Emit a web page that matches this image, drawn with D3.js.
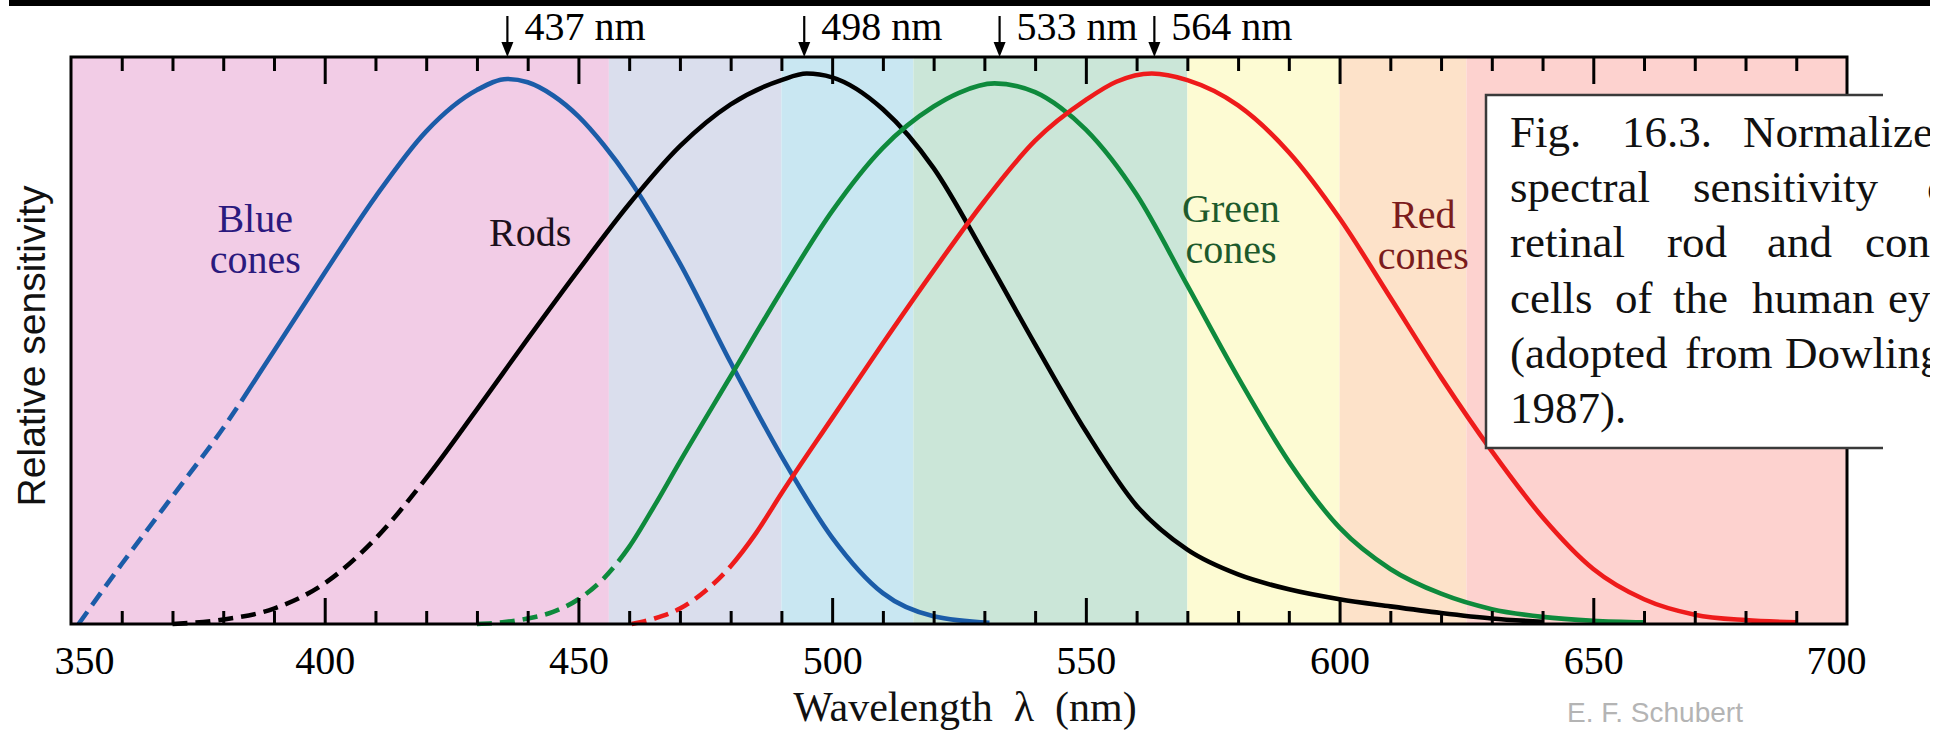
<!DOCTYPE html>
<html><head><meta charset="utf-8">
<script src="https://cdn.jsdelivr.net/npm/d3@7"></script>
<style>
body{margin:0;background:#fff;}
svg{display:block;}
</style>
</head><body>
<svg id="chart" width="1956" height="735"></svg>
<script>
// ---------------- DATA ----------------
const bandEdges  = [350, 456, 490, 516, 570, 600, 625, 700];
const bandColors = ["#f2cce6", "#dadeed", "#c9e7f2", "#cbe6d8", "#fdfbd3", "#fde2c9", "#fdd2cf"];

const minorTicks = [360,370,380,390,410,420,430,440,460,470,480,490,510,520,530,540,560,570,580,590,610,620,630,640,660,670,680,690];
const majorTicks = [400,450,500,550,600,650];
const tickLabels = [350,400,450,500,550,600,650,700];

const blueCones = [[351.5,0.0],[360,0.109],[370,0.232],[380,0.356],[390,0.496],[400,0.638],[410,0.776],[420,0.895],[430,0.970],[436,0.990],[440,0.984],[445,0.960],[450,0.922],[455,0.870],[460,0.808],[470,0.655],[480,0.475],[490,0.305],[500,0.157],[510,0.056],[520,0.014],[531,0.002]];
const rods      = [[370,0.0],[380,0.008],[390,0.028],[400,0.074],[410,0.155],[420,0.265],[430,0.390],[440,0.518],[450,0.643],[460,0.763],[470,0.868],[480,0.944],[490,0.988],[495,1.0],[500,0.993],[510,0.935],[520,0.828],[530,0.672],[540,0.508],[550,0.350],[560,0.215],[570,0.135],[580,0.090],[590,0.063],[600,0.045],[610,0.032],[620,0.020],[630,0.010],[640,0.004]];
const greenCones= [[430,0.0],[435,0.003],[440,0.010],[445,0.022],[450,0.045],[455,0.083],[460,0.140],[465,0.215],[470,0.295],[480,0.450],[490,0.605],[500,0.750],[510,0.865],[520,0.940],[525,0.965],[532,0.982],[540,0.966],[545,0.938],[550,0.898],[560,0.780],[570,0.615],[580,0.448],[590,0.295],[600,0.175],[610,0.100],[620,0.055],[630,0.027],[640,0.013],[650,0.006],[660,0.003]];
const redCones  = [[460.5,0.0],[465,0.010],[470,0.028],[475,0.060],[480,0.105],[485,0.165],[490,0.237],[500,0.374],[510,0.510],[520,0.642],[530,0.768],[540,0.878],[550,0.952],[556,0.985],[563,1.0],[570,0.988],[580,0.942],[590,0.857],[600,0.737],[610,0.593],[620,0.448],[630,0.314],[640,0.194],[650,0.100],[660,0.045],[670,0.017],[680,0.007],[690,0.003]];

const seriesData   = [blueCones, rods, greenCones, redCones];
const seriesColors = ["#1b5ca8", "#000000", "#0e8a3c", "#ee1b1b"];
const dashEndNm    = [383, 418, 457, 480];

const peakLabels = ["437 nm", "498 nm", "533 nm", "564 nm"];
const peakArrowNm = [436, 494.5, 533, 563.5];

const captionLines = [
  [["Fig.",1510],["16.3.",1622],["Normalized",1743]],
  [["spectral",1510],["sensitivity",1693],["of",1927]],
  [["retinal",1510],["rod",1667],["and",1767],["cone",1865]],
  [["cells",1510],["of",1615],["the",1673],["human",1752],["eye",1888]],
  [["(adopted",1510],["from",1685],["Dowling,",1785]],
  [["1987).",1510]]
];

// ---------------- LAYOUT ----------------
const svg = d3.select("#chart");
const L = 71, R = 1847, T = 57, B = 624;
const x = d3.scaleLinear().domain([350, 700]).range([L, R]);
const y = d3.scaleLinear().domain([0, 1]).range([B, 73.5]);
const serif = "'Liberation Serif','Times New Roman',Times,serif";
const sans = "'Liberation Sans',Arial,Helvetica,sans-serif";

// top black bar
svg.append("rect").attr("x", 9).attr("y", 0).attr("width", 1921).attr("height", 6).attr("fill", "#000");

// bands
const bands = d3.range(bandColors.length).map(i => ({a: bandEdges[i], b: bandEdges[i+1], c: bandColors[i]}));
svg.append("g").selectAll("rect").data(bands).join("rect")
  .attr("x", d => x(d.a)).attr("y", T)
  .attr("width", d => x(d.b) - x(d.a)).attr("height", B - T)
  .attr("fill", d => d.c);

// curves: one path each, dashed up to dashEndNm then solid
const line = d3.line().x(d => x(d[0])).y(d => y(d[1])).curve(d3.curveMonotoneX);
const gc = svg.append("g");
seriesData.forEach((data, i) => {
  const p = gc.append("path").attr("d", line(data)).attr("fill", "none")
    .attr("stroke", seriesColors[i]).attr("stroke-width", 4.6)
    .attr("stroke-linejoin", "round");
  const node = p.node();
  const total = node.getTotalLength();
  const targetX = x(dashEndNm[i]);
  let lo = 0, hi = total;
  for (let k = 0; k < 40; k++) {
    const mid = (lo + hi) / 2;
    if (node.getPointAtLength(mid).x < targetX) lo = mid; else hi = mid;
  }
  const n = Math.round(lo / 23);
  const arr = [];
  for (let k = 0; k < n; k++) arr.push(15, 8);
  arr.push(total + 10, 0);
  p.attr("stroke-dasharray", arr.join(","));
});

// axes ticks (inward)
function tickAxis(axisFn, vals, size, ty) {
  const g = svg.append("g").attr("transform", `translate(0,${ty})`)
    .call(axisFn(x).tickValues(vals).tickSize(size).tickFormat(""));
  g.select(".domain").remove();
  g.selectAll("line").attr("stroke", "#000").attr("stroke-width", 3);
  return g;
}
tickAxis(d3.axisBottom, minorTicks, -13, B);
tickAxis(d3.axisBottom, majorTicks, -26, B);
tickAxis(d3.axisTop, minorTicks, -14, T);
tickAxis(d3.axisTop, majorTicks, -27, T);

// tick labels
const gl = svg.append("g").attr("transform", `translate(0,${B})`)
  .call(d3.axisBottom(x).tickValues(tickLabels).tickSize(0).tickPadding(22));
gl.select(".domain").remove();
gl.selectAll("text").attr("font-family", serif).attr("font-size", 40).attr("fill", "#000")
  .attr("dx", d => d === 350 ? 13 : (d === 700 ? -11 : 0));

// frame
svg.append("rect").attr("x", L).attr("y", T).attr("width", R - L).attr("height", B - T)
  .attr("fill", "none").attr("stroke", "#000").attr("stroke-width", 3);

// peak arrows + labels
const ga = svg.append("g");
peakLabels.forEach((lab, i) => {
  const px = x(peakArrowNm[i]);
  ga.append("line").attr("x1", px).attr("x2", px).attr("y1", 16).attr("y2", 46)
    .attr("stroke", "#000").attr("stroke-width", 2.2);
  ga.append("path").attr("d", `M${px-6},${42} L${px+6},${42} L${px},${57} Z`).attr("fill", "#000");
  ga.append("text").attr("x", px + 17).attr("y", 40).text(lab)
    .attr("font-family", serif).attr("font-size", 40).attr("fill", "#000");
});

// curve labels
const labels = [
  {t: ["Blue", "cones"], nm: 386.3, v: 0.712, c: "#2b1a7e"},
  {t: ["Rods"], nm: 440.5, v: 0.687, c: "#1c101c"},
  {t: ["Green", "cones"], nm: 578.6, v: 0.730, c: "#1d5a2c"},
  {t: ["Red", "cones"], nm: 616.5, v: 0.720, c: "#7b1c1c"}
];
labels.forEach(l => {
  l.t.forEach((s, j) => {
    svg.append("text").attr("x", x(l.nm)).attr("y", y(l.v) + j * 41)
      .attr("text-anchor", "middle").attr("font-family", serif).attr("font-size", 40)
      .attr("fill", l.c).text(s);
  });
});

// axis titles
svg.append("text").attr("transform", "translate(45,346) rotate(-90)")
  .attr("text-anchor", "middle").attr("font-family", sans).attr("font-size", 39)
  .attr("fill", "#111").text("Relative sensitivity");
svg.append("text").attr("x", 965).attr("y", 721).attr("text-anchor", "middle")
  .attr("font-family", serif).attr("font-size", 42).attr("fill", "#111")
  .text("Wavelength\u00a0\u00a0\u03bb\u00a0\u00a0(nm)");

svg.append("text").attr("x", 1655).attr("y", 722).attr("text-anchor", "middle")
  .attr("font-family", sans).attr("font-size", 28).attr("fill", "#b4b4b4").text("E. F. Schubert");

// caption box
svg.append("rect").attr("x", 1486).attr("y", 95).attr("width", 470).attr("height", 353).attr("fill", "#fff");
svg.append("path").attr("d", "M1883,95 H1486 V448 H1883").attr("fill", "none")
  .attr("stroke", "#3a3a3a").attr("stroke-width", 2.5);
svg.append("clipPath").attr("id", "capclip").append("rect")
  .attr("x", 1486).attr("y", 90).attr("width", 444).attr("height", 360);
const gcap = svg.append("g").attr("clip-path", "url(#capclip)");
const baselines = [147, 202, 257, 313, 368, 423];
captionLines.forEach((ln, i) => {
  ln.forEach(w => {
    gcap.append("text").attr("x", w[1]).attr("y", baselines[i]).text(w[0])
      .attr("font-family", serif).attr("font-size", 45).attr("fill", "#111");
  });
});
</script>
</body></html>
